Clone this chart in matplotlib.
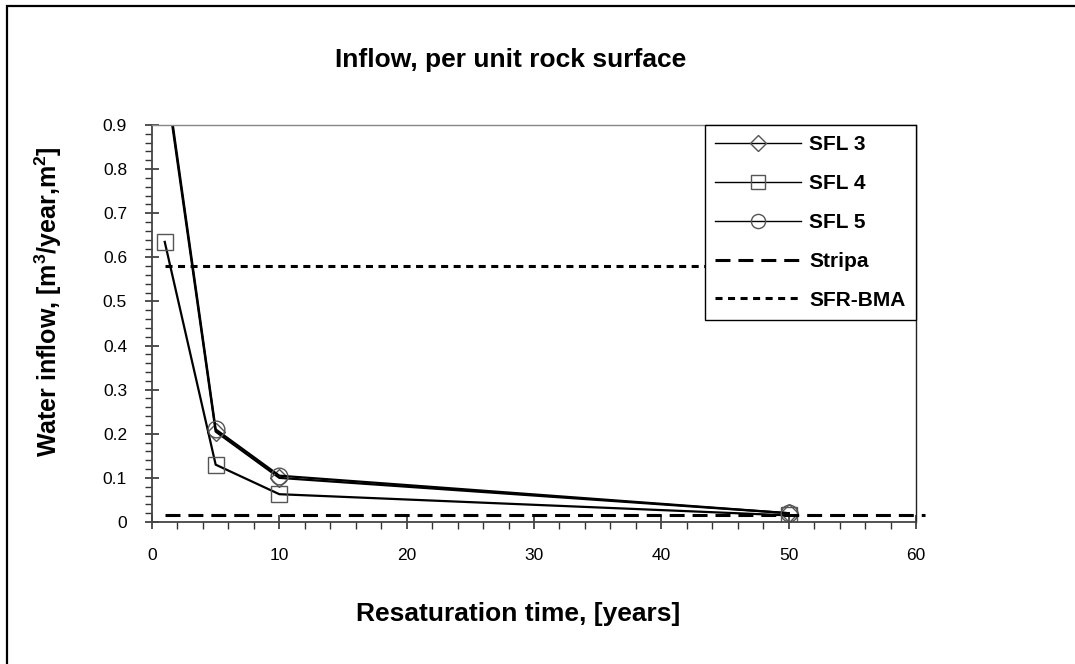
import matplotlib
matplotlib.use("Agg")
import matplotlib.pyplot as plt
from matplotlib.patches import Rectangle
from matplotlib.ticker import MultipleLocator

plt.rcParams['font.family'] = ['Liberation Sans', 'DejaVu Sans']
plt.rcParams['mathtext.fontset'] = 'custom'
plt.rcParams['mathtext.rm'] = 'Liberation Sans'
plt.rcParams['mathtext.bf'] = 'Liberation Sans:bold'

# data
years = [1, 5, 10, 50]
sfl3 = [1.02, 0.205, 0.100, 0.020]
sfl4 = [0.635, 0.130, 0.063, 0.015]
sfl5 = [1.03, 0.210, 0.105, 0.020]
stripa_x = [1, 60.7]
stripa = [0.015, 0.015]
bma_x = [1, 60]
sfr_bma = [0.58, 0.58]

fig = plt.figure(figsize=(10.75, 6.64), dpi=100)
ax = fig.add_axes([152 / 1075, 1 - 522 / 664, (916 - 152) / 1075, (522 - 125) / 664])

mk = dict(markerfacecolor='none', markeredgecolor='#555555', markeredgewidth=1.0)
ax.plot(years, sfl3, color='black', lw=1.6, marker='D', markersize=9, label='SFL 3', **mk)
ax.plot(years, sfl4, color='black', lw=1.6, marker='s', markersize=12, label='SFL 4', **mk)
ax.plot(years, sfl5, color='black', lw=1.6, marker='o', markersize=12, label='SFL 5', **mk)
ax.plot(stripa_x, stripa, color='black', lw=2.2, dashes=(4.9, 2.6), label='Stripa', clip_on=False)
ax.plot(bma_x, sfr_bma, color='black', lw=2.2, dashes=(2.3, 1.8), label='SFR-BMA')

ax.set_xlim(0, 60)
ax.set_ylim(0, 0.9)
ax.xaxis.set_major_locator(MultipleLocator(10))
ax.xaxis.set_minor_locator(MultipleLocator(2))
ax.yaxis.set_minor_locator(MultipleLocator(0.02))
ax.set_yticks([0, 0.1, 0.2, 0.3, 0.4, 0.5, 0.6, 0.7, 0.8, 0.9])
ax.set_yticklabels(['0', '0.1', '0.2', '0.3', '0.4', '0.5', '0.6', '0.7', '0.8', '0.9'])

ax.tick_params(which='major', direction='inout', length=10, width=1.2, color='#333333',
               labelsize=12.5)
ax.tick_params(which='minor', direction='out', length=5, width=1.0, color='#333333')
ax.tick_params(axis='y', which='major', pad=13)
ax.tick_params(axis='x', which='major', pad=14)

for s in ['left', 'bottom']:
    ax.spines[s].set_color('#444444')
    ax.spines[s].set_linewidth(1.3)
ax.spines['top'].set_color('#888888')
ax.spines['top'].set_linewidth(1.0)
ax.spines['right'].set_color('#222222')
ax.spines['right'].set_linewidth(1.0)

ax.set_title('Inflow, per unit rock surface', fontsize=19, fontweight='bold', pad=42, x=0.47)
ax.set_xlabel('Resaturation time, [years]', fontsize=19, fontweight='bold', labelpad=28)
ax.xaxis.label.set_x(0.479)
ax.set_ylabel(r'Water inflow, [m$^\mathbf{3}$/year,m$^\mathbf{2}$]', fontsize=18,
              fontweight='bold', labelpad=28)
ax.yaxis.label.set_y(0.555)

leg = ax.legend(loc='upper right', bbox_to_anchor=(1.0, 1.0), frameon=True, fancybox=False,
                framealpha=1.0, prop={'weight': 'bold', 'size': 15}, handlelength=4.1,
                labelspacing=0.95, borderpad=0.5, handletextpad=0.4, borderaxespad=0.0)
leg.get_frame().set_edgecolor('black')
leg.get_frame().set_linewidth(1.0)
for h in leg.legend_handles[:3]:
    h.set_linewidth(1.0)
    h.set_markersize(h.get_markersize() * 0.85)

# outer border like the original frame
fig.patches.append(Rectangle((7 / 1075, -0.01), 1.1, 1 - 6 / 664 + 0.01, transform=fig.transFigure,
                             fill=False, edgecolor='black', lw=1.6))

fig.savefig('out.png', dpi=100)
